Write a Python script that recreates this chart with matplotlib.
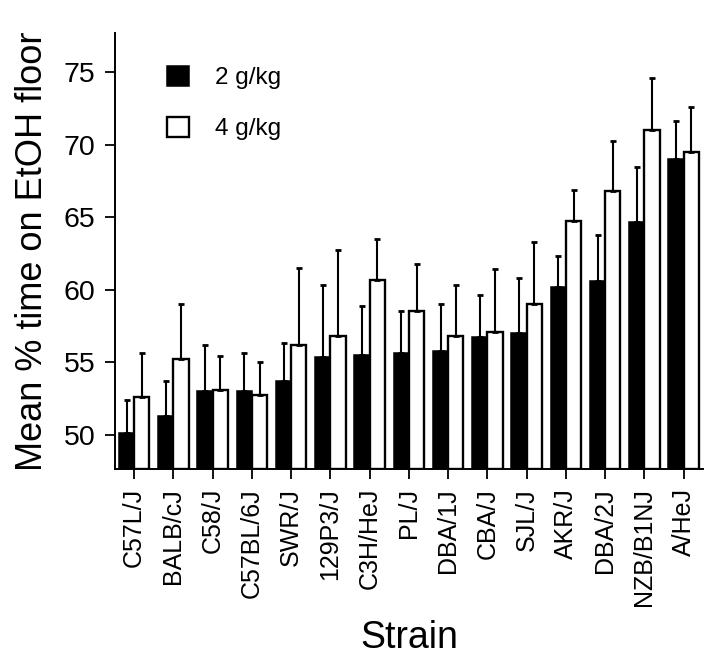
import numpy as np
import matplotlib
matplotlib.use('Agg')
import matplotlib.pyplot as plt

plt.rcParams['font.family'] = ['Liberation Sans', 'DejaVu Sans']

# Данные
strains = ['C57L/J', 'BALB/cJ', 'C58/J', 'C57BL/6J', 'SWR/J', '129P3/J',
           'C3H/HeJ', 'PL/J', 'DBA/1J', 'CBA/J', 'SJL/J', 'AKR/J',
           'DBA/2J', 'NZB/B1NJ', 'A/HeJ']
mean_2g = [50.1, 51.3, 53.0, 53.0, 53.7, 55.35, 55.5, 55.65, 55.8, 56.7,
           57.0, 60.15, 60.6, 64.65, 69.0]
err_2g = [2.3, 2.4, 3.2, 2.6, 2.6, 4.95, 3.35, 2.85, 3.2, 2.9,
          3.8, 2.15, 3.2, 3.8, 2.6]
mean_4g = [52.6, 55.2, 53.1, 52.7, 56.2, 56.8, 60.66, 58.5, 56.8, 57.05,
           59.0, 64.7, 66.8, 71.0, 69.5]
err_4g = [3.0, 3.8, 2.3, 2.3, 5.3, 5.9, 2.85, 3.3, 3.5, 4.35,
          4.3, 2.2, 3.45, 3.6, 3.1]
legend_labels = ['2 g/kg', '4 g/kg']

fig = plt.figure(figsize=(7.14, 6.61), dpi=100)
ax = fig.add_axes([0.161, 0.291, 0.824, 0.659])

x = np.arange(len(strains))
w = 0.39
ybase = 47.65

# только верхние усы
err_kw = dict(ecolor='black', elinewidth=1.5, capsize=2, capthick=2)
b1 = ax.bar(x - w / 2, np.array(mean_2g) - ybase, w, bottom=ybase,
            color='black', edgecolor='black', linewidth=1.1,
            yerr=[np.zeros(len(err_2g)), err_2g], error_kw=err_kw,
            label=legend_labels[0])
b2 = ax.bar(x + w / 2, np.array(mean_4g) - ybase, w, bottom=ybase,
            color='white', edgecolor='black', linewidth=1.7,
            yerr=[np.zeros(len(err_4g)), err_4g], error_kw=err_kw,
            label=legend_labels[1], zorder=2)

ax.set_ylim(ybase, 77.7)
ax.set_xlim(-0.49, 14.5)
ax.set_yticks([50, 55, 60, 65, 70, 75])
ax.set_xticks(x)
ax.set_xticklabels(strains, rotation=90, fontsize=18)
ax.tick_params(axis='y', labelsize=20.5, length=7, width=1.3, pad=7)
ax.tick_params(axis='x', length=7, width=1.3, pad=7)

for s in ['top', 'right']:
    ax.spines[s].set_visible(False)
for s in ['left', 'bottom']:
    ax.spines[s].set_linewidth(1.4)

ax.set_ylabel('Mean % time on EtOH floor', fontsize=26, labelpad=10)
ax.set_xlabel('Strain', fontsize=27, labelpad=10)

ax.legend(handles=[b1, b2], frameon=False, fontsize=17.5,
          loc='upper left', bbox_to_anchor=(0.051, 0.975),
          handlelength=0.9, handleheight=0.9, labelspacing=1.14,
          handletextpad=1.07)

fig.savefig('out.png', dpi=100)
